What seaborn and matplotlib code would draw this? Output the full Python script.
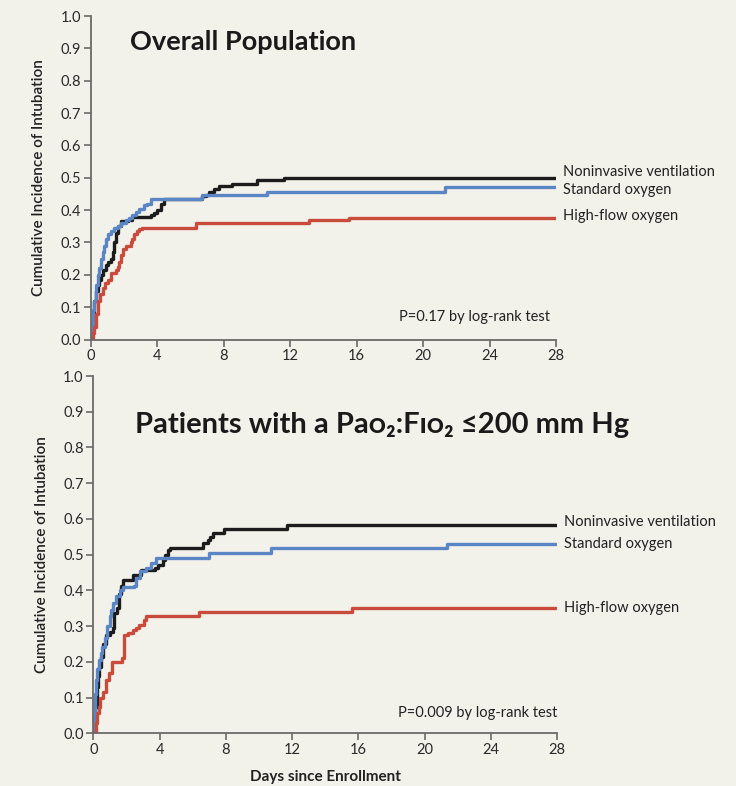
import matplotlib
matplotlib.use("Agg")
import matplotlib.pyplot as plt
import pandas as pd
import seaborn as sns

# Treatment groups and their colours
groups = ["Noninvasive ventilation", "Standard oxygen", "High-flow oxygen"]
group_colors = ["#1c1c1c", "#5a86c6", "#c94b3b"]

# Overall population: cumulative incidence of intubation (step curves)
overall_niv_days = [0, 0.08, 0.14, 0.2, 0.3, 0.4, 0.5, 0.6, 0.75, 0.9, 1.05, 1.2, 1.3, 1.4, 1.5, 1.6,
                    1.8, 2.2, 2.5, 3.6, 3.8, 4.0, 4.2, 4.4, 6.7, 6.9, 7.1, 7.4, 7.7, 8.5, 10.0, 11.65, 28]
overall_niv_inc = [0, 0.03, 0.07, 0.12, 0.15, 0.17, 0.185, 0.2, 0.215, 0.23, 0.24, 0.25, 0.27, 0.30, 0.33, 0.35,
                   0.365, 0.37, 0.38, 0.385, 0.39, 0.40, 0.42, 0.433, 0.443, 0.448, 0.455, 0.465, 0.474, 0.482,
                   0.492, 0.5, 0.5]

overall_std_days = [0, 0.05, 0.1, 0.15, 0.2, 0.3, 0.4, 0.5, 0.6, 0.7, 0.8, 0.9, 1.05, 1.2, 1.4, 1.6, 1.8,
                    2.1, 2.3, 2.5, 2.7, 2.9, 3.2, 3.4, 3.6, 6.7, 10.6, 21.3, 28]
overall_std_inc = [0, 0.03, 0.06, 0.09, 0.12, 0.17, 0.2, 0.22, 0.25, 0.27, 0.29, 0.31, 0.325, 0.335, 0.345,
                   0.35, 0.36, 0.37, 0.375, 0.385, 0.395, 0.405, 0.415, 0.42, 0.433, 0.446, 0.457, 0.47, 0.47]

overall_hfo_days = [0, 0.12, 0.2, 0.3, 0.4, 0.55, 0.7, 0.85, 1.0, 1.2, 1.5, 1.6, 1.7, 1.8, 1.9, 2.1, 2.4,
                    2.5, 2.6, 2.75, 2.9, 3.1, 6.3, 13.15, 15.56, 28]
overall_hfo_inc = [0, 0.02, 0.04, 0.08, 0.12, 0.14, 0.16, 0.175, 0.185, 0.205, 0.215, 0.225, 0.24, 0.26,
                   0.28, 0.29, 0.30, 0.31, 0.325, 0.335, 0.343, 0.346, 0.36, 0.371, 0.377, 0.377]

# Patients with PaO2:FiO2 <= 200 mm Hg
severe_niv_days = [0, 0.06, 0.12, 0.2, 0.26, 0.32, 0.46, 0.6, 0.73, 0.97, 1.17, 1.27, 1.41, 1.54, 1.68,
                   1.78, 2.38, 2.89, 3.7, 3.9, 4.2, 4.35, 4.5, 4.6, 6.6, 6.9, 7.05, 7.2, 7.9, 11.7, 28]
severe_niv_inc = [0, 0.02, 0.075, 0.13, 0.16, 0.187, 0.215, 0.25, 0.275, 0.285, 0.295, 0.336, 0.35, 0.39,
                  0.413, 0.43, 0.444, 0.458, 0.462, 0.47, 0.486, 0.5, 0.514, 0.52, 0.533, 0.542, 0.55, 0.56,
                  0.572, 0.583, 0.583]

severe_std_days = [0, 0.06, 0.1, 0.16, 0.24, 0.36, 0.45, 0.53, 0.67, 0.81, 0.97, 1.08, 1.17, 1.37, 1.58,
                   1.78, 2.45, 2.59, 2.79, 3.19, 3.5, 3.8, 6.95, 10.7, 21.35, 28]
severe_std_inc = [0, 0.05, 0.11, 0.15, 0.18, 0.205, 0.225, 0.243, 0.266, 0.3, 0.327, 0.345, 0.364, 0.383,
                  0.4, 0.41, 0.413, 0.435, 0.453, 0.462, 0.477, 0.49, 0.504, 0.518, 0.53, 0.53]

severe_hfo_days = [0, 0.16, 0.2, 0.32, 0.4, 0.6, 0.77, 0.93, 1.11, 1.7, 1.84, 2.08, 2.38, 2.55, 2.75, 3.03,
                   3.15, 6.4, 15.6, 28]
severe_hfo_inc = [0, 0.03, 0.056, 0.075, 0.1, 0.117, 0.15, 0.168, 0.2, 0.21, 0.275, 0.282, 0.29, 0.296,
                  0.304, 0.318, 0.327, 0.339, 0.35, 0.35]

panel_titles = ["Overall Population",
                "Patients with a Pa\u1d0f\u2082:F\u026a\u1d0f\u2082 \u2264200 mm Hg"]
p_value_texts = ["P=0.17 by log-rank test", "P=0.009 by log-rank test"]
x_ticks = [0, 4, 8, 12, 16, 20, 24, 28]
y_ticks = [0.0, 0.1, 0.2, 0.3, 0.4, 0.5, 0.6, 0.7, 0.8, 0.9, 1.0]
y_label = "Cumulative Incidence of Intubation"
x_label = "Days since Enrollment"


def long_frame(series):
    rows = []
    for group, (days, inc) in zip(groups, series):
        for d, v in zip(days, inc):
            rows.append({"Days": d, "Incidence": v, "Group": group})
    return pd.DataFrame(rows)


panels = [
    long_frame([(overall_niv_days, overall_niv_inc),
                (overall_std_days, overall_std_inc),
                (overall_hfo_days, overall_hfo_inc)]),
    long_frame([(severe_niv_days, severe_niv_inc),
                (severe_std_days, severe_std_inc),
                (severe_hfo_days, severe_hfo_inc)]),
]

bg = "#f2f1ea"
sns.set_style("ticks")
plt.rcParams["font.family"] = ["Lato", "Noto Sans", "DejaVu Sans"]

fig = plt.figure(figsize=(7.36, 7.86), dpi=100, facecolor=bg)
axes = [fig.add_axes([0.1236, 0.568, 0.6318, 0.4116]),
        fig.add_axes([0.1270, 0.067, 0.6298, 0.4546])]

palette = dict(zip(groups, group_colors))
# vertical nudges (points) for the end-of-line labels
label_nudges = [[4.0, -2.0, 1.0], [2.0, 0.0, 0.0]]
title_pos = [(0.084, 0.92), (0.0895, 0.863)]
title_sizes = [19.5, 21]
p_pos = [(0.987, 0.07), (1.0, 0.057)]

for i, (ax, df) in enumerate(zip(axes, panels)):
    ax.set_facecolor(bg)
    sns.lineplot(data=df, x="Days", y="Incidence", hue="Group", palette=palette,
                 estimator=None, drawstyle="steps-post", linewidth=2.4,
                 legend=False, ax=ax)
    ax.set_xlim(0, 28)
    ax.set_ylim(0, 1.0)
    ax.set_xticks(x_ticks)
    ax.set_xticklabels([str(t) for t in x_ticks])
    ax.set_yticks(y_ticks)
    ax.set_yticklabels([f"{t:.1f}" for t in y_ticks])
    sns.despine(ax=ax)
    for side in ("left", "bottom"):
        ax.spines[side].set_color("#6a6a6a")
        ax.spines[side].set_linewidth(1.3)
    ax.tick_params(direction="out", length=5, width=1.2, color="#6a6a6a",
                   labelcolor="#2a2a2a", labelsize=10.5, pad=2)
    ax.set_ylabel(y_label, fontsize=11, fontweight="semibold", color="#222222")
    ax.yaxis.set_label_coords(-0.097, 0.5)
    ax.set_xlabel("")

    # end-of-curve group labels
    for g, nudge in zip(groups, label_nudges[i]):
        last = df[df["Group"] == g]["Incidence"].iloc[-1]
        ax.annotate(g, xy=(28, last), xytext=(5, nudge), textcoords="offset points",
                    ha="left", va="center", fontsize=10.5, color="#222222",
                    annotation_clip=False)

    ax.text(title_pos[i][0], title_pos[i][1], panel_titles[i], transform=ax.transAxes,
            ha="left", va="center", fontsize=title_sizes[i], fontweight="bold", color="#1a1a1a")
    ax.text(p_pos[i][0], p_pos[i][1], p_value_texts[i], transform=ax.transAxes,
            ha="right", va="center", fontsize=10.5, color="#222222")

axes[1].set_xlabel(x_label, fontsize=11, fontweight="bold", color="#222222")
axes[1].xaxis.set_label_coords(0.5, -0.102)

fig.savefig("out.png", dpi=100, facecolor=bg)
